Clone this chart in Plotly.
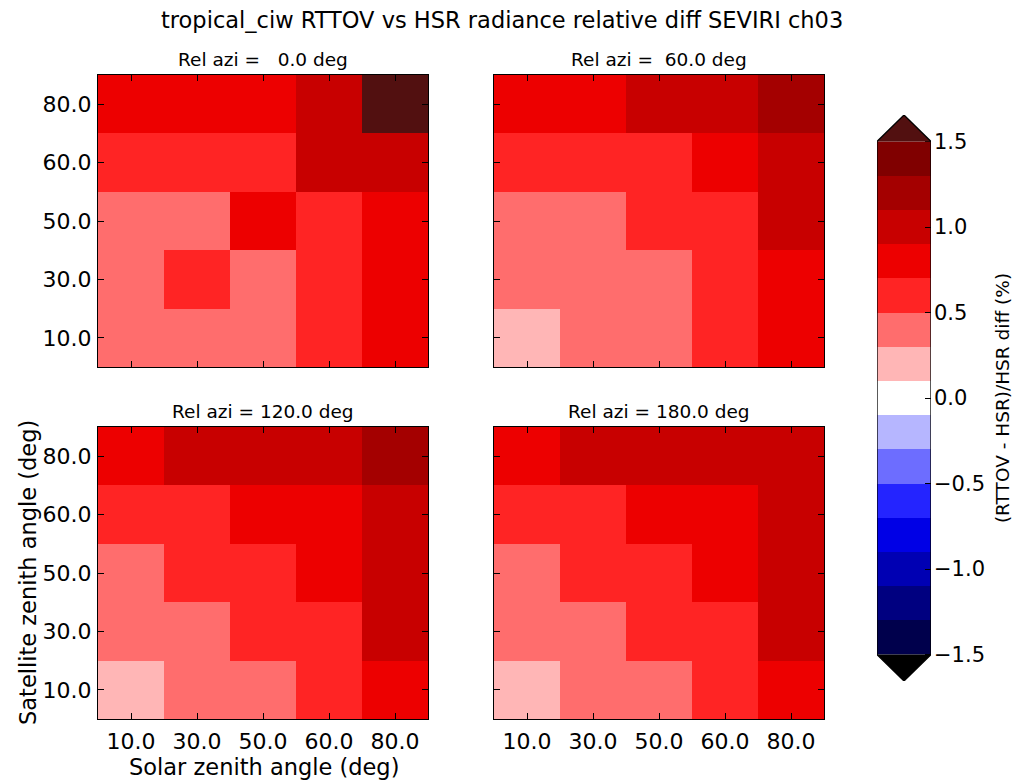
import plotly.graph_objects as go
import numpy as np

# ---------------- data ----------------
solar_zen = ["10.0", "30.0", "50.0", "60.0", "80.0"]      # x categories
sat_zen = ["10.0", "30.0", "50.0", "60.0", "80.0"]        # y categories (bottom->top)
rel_azi = [0.0, 60.0, 120.0, 180.0]

# rows: satellite zenith 10,30,50,60,80 ; cols: solar zenith 10,30,50,60,80
diff_azi0 = [
    [0.41, 0.42, 0.44, 0.62, 0.81],
    [0.43, 0.58, 0.45, 0.64, 0.83],
    [0.44, 0.46, 0.78, 0.66, 0.86],
    [0.61, 0.62, 0.63, 0.98, 1.04],
    [0.79, 0.80, 0.82, 1.02, 1.62],
]
diff_azi60 = [
    [0.25, 0.38, 0.41, 0.60, 0.80],
    [0.36, 0.39, 0.43, 0.62, 0.84],
    [0.42, 0.44, 0.56, 0.66, 0.95],
    [0.57, 0.59, 0.63, 0.76, 1.02],
    [0.78, 0.81, 0.93, 0.99, 1.18],
]
diff_azi120 = [
    [0.26, 0.39, 0.44, 0.62, 0.82],
    [0.40, 0.46, 0.57, 0.66, 0.96],
    [0.46, 0.55, 0.64, 0.78, 1.00],
    [0.58, 0.66, 0.73, 0.82, 1.04],
    [0.80, 0.94, 0.97, 1.01, 1.16],
]
diff_azi180 = [
    [0.24, 0.37, 0.43, 0.61, 0.81],
    [0.38, 0.44, 0.54, 0.64, 0.95],
    [0.44, 0.53, 0.62, 0.76, 0.99],
    [0.56, 0.64, 0.72, 0.81, 1.02],
    [0.79, 0.92, 0.95, 0.99, 1.08],
]
panels = [diff_azi0, diff_azi60, diff_azi120, diff_azi180]

# colour levels (colorbar scale)
cb_ticks = [-1.5, -1.0, -0.5, 0.0, 0.5, 1.0, 1.5]
cb_ticktext = ["\u22121.5", "\u22121.0", "\u22120.5", "0.0", "0.5", "1.0", "1.5"]
bin_colors = ['#00004c', '#000080', '#0000b3', '#0000e6', '#2424ff', '#6d6dff', '#b6b6ff',
              '#ffffff', '#ffb6b6', '#ff6d6d', '#ff2424', '#ed0000', '#c80000', '#a40000', '#800000']
under_color = '#000000'
over_color = '#521010'

# ---------------- style ----------------
FONT = "DejaVu Sans"
W, H = 1020, 783
vmin, vmax, step = -1.5, 1.5, 0.2
zlo, zhi = vmin - step, vmax + step
all_colors = [under_color] + bin_colors + [over_color]
n = len(all_colors)
cscale = []
for i, c in enumerate(all_colors):
    cscale.append([i / n, c])
    cscale.append([(i + 1) / n, c])

def px_x(a, b):
    return [a / W, b / W]

def px_y(top, bot):
    return [1 - bot / H, 1 - top / H]

doms = [
    (px_x(98, 428), px_y(75, 367)),
    (px_x(494, 824), px_y(75, 367)),
    (px_x(98, 428), px_y(427, 719)),
    (px_x(494, 824), px_y(427, 719)),
]

fig = go.Figure()
for k, z in enumerate(panels):
    s = "" if k == 0 else str(k + 1)
    fig.add_trace(go.Heatmap(
        z=z, x=solar_zen, y=sat_zen, zmin=zlo, zmax=zhi,
        colorscale=cscale, showscale=False, xaxis="x" + s, yaxis="y" + s,
        hoverinfo="x+y+z"))
    xd, yd = doms[k]
    axcommon = dict(showline=True, linecolor="black", linewidth=1.3, mirror="ticks",
                    ticks="inside", ticklen=6, tickwidth=1.2, tickcolor="black",
                    showgrid=False, zeroline=False, type="category",
                    tickfont=dict(family=FONT, size=22, color="black"))
    fig.update_layout(**{
        "xaxis" + s: dict(domain=xd, anchor="y" + s, showticklabels=(k >= 2),
                          range=[-0.5, 4.5], ticklabelstandoff=2, **axcommon),
        "yaxis" + s: dict(domain=yd, anchor="x" + s, showticklabels=(k % 2 == 0),
                          range=[-0.5, 4.5], ticklabelstandoff=1, **axcommon),
    })
    fig.add_annotation(text=f"Rel azi = {rel_azi[k]:5.1f} deg".replace(" ", "\u00a0"),
                       x=(xd[0] + xd[1]) / 2, y=yd[1], xref="paper", yref="paper",
                       xanchor="center", yanchor="bottom", yshift=3, showarrow=False,
                       font=dict(family=FONT, size=18.5, color="black"))

# ---------------- colorbar (as a heatmap) ----------------
levels_c = [round(vmin + step / 2 + i * step, 2) for i in range(len(bin_colors))]
fig.add_trace(go.Heatmap(
    z=[[v] for v in levels_c], x=[0.5], y=levels_c, zmin=zlo, zmax=zhi,
    colorscale=cscale, showscale=False, xaxis="x5", yaxis="y5", hoverinfo="skip"))
ext = 0.155
fig.update_layout(
    xaxis5=dict(domain=px_x(877, 931), anchor="y5", range=[0, 1], visible=False),
    yaxis5=dict(domain=[1 - 681 / H, 1 - 115 / H], anchor="x5", side="right",
                range=[vmin - ext, vmax + ext], showgrid=False, zeroline=False,
                showline=False, ticks="inside", ticklen=6, tickwidth=1.2, tickcolor="black",
                tickvals=cb_ticks, ticktext=cb_ticktext, ticklabelstandoff=2,
                tickfont=dict(family=FONT, size=21, color="black"),
                title=dict(text="(RTTOV - HSR)/HSR diff (%)", standoff=12,
                           font=dict(family=FONT, size=18.5, color="black"))),
)
fig.add_shape(type="path", xref="x5", yref="y5",
              path=f"M 0 {vmax} L 1 {vmax} L 0.5 {vmax + ext} Z",
              fillcolor=over_color, line=dict(width=0))
fig.add_shape(type="path", xref="x5", yref="y5",
              path=f"M 0 {vmin} L 1 {vmin} L 0.5 {vmin - ext} Z",
              fillcolor=under_color, line=dict(width=0))
fig.add_shape(type="path", xref="x5", yref="y5",
              path=(f"M 0 {vmin} L 0 {vmax} L 0.5 {vmax + ext} L 1 {vmax} "
                    f"L 1 {vmin} L 0.5 {vmin - ext} Z"),
              fillcolor="rgba(0,0,0,0)", line=dict(color="black", width=1.3))

# ---------------- titles ----------------
fig.add_annotation(text="tropical_ciw RTTOV vs HSR radiance relative diff SEVIRI ch03",
                   x=502 / W, y=1 - 20 / H, xref="paper", yref="paper",
                   xanchor="center", yanchor="middle", showarrow=False,
                   font=dict(family=FONT, size=22.5, color="black"))
fig.add_annotation(text="Solar zenith angle (deg)", x=264 / W, y=1 - 767 / H,
                   xref="paper", yref="paper", xanchor="center", yanchor="middle",
                   showarrow=False, font=dict(family=FONT, size=22.5, color="black"))
fig.add_annotation(text="Satellite zenith angle (deg)", x=28 / W, y=1 - 573 / H,
                   xref="paper", yref="paper", xanchor="center", yanchor="middle",
                   textangle=-90, showarrow=False,
                   font=dict(family=FONT, size=22.5, color="black"))

fig.update_layout(width=W, height=H, margin=dict(l=0, r=0, t=0, b=0),
                  paper_bgcolor="white", plot_bgcolor="white", showlegend=False,
                  font=dict(family=FONT, color="black"))
fig.write_html("out.html")
